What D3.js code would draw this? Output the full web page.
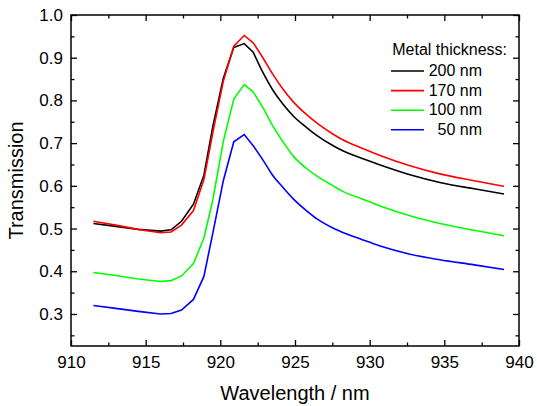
<!DOCTYPE html>
<html>
<head>
<meta charset="utf-8">
<script src="https://cdn.jsdelivr.net/npm/d3@7"></script>
<style>
  body { margin: 0; background: #fff; }
  text { font-family: "Liberation Sans", Arial, sans-serif; fill: #000; }
</style>
</head>
<body>
<div id="chart"></div>
<script>
const width = 537;
const height = 406;
const margin = { top: 15, right: 18, bottom: 60, left: 71 };

// wavelength (nm) sampled along all curves
const wavelength = [911.5, 913, 914.5, 916, 916.7, 917.4, 918.2, 918.9, 919.5, 920.2, 920.9, 921.6,
  922.2, 922.9, 923.5, 924.2, 924.9, 925.8, 926.5, 927.5, 928.2, 929.5, 930.7, 932.7, 934.7, 937, 939];

const t200 = [0.512, 0.505, 0.498, 0.494, 0.497, 0.517, 0.557, 0.625, 0.740, 0.852, 0.924, 0.933,
  0.913, 0.862, 0.825, 0.791, 0.763, 0.736, 0.717, 0.695, 0.682, 0.664, 0.649, 0.626, 0.608, 0.593, 0.581];
const t170 = [0.517, 0.508, 0.498, 0.490, 0.492, 0.508, 0.542, 0.615, 0.725, 0.845, 0.927, 0.952,
  0.935, 0.897, 0.862, 0.826, 0.796, 0.766, 0.746, 0.722, 0.708, 0.688, 0.671, 0.647, 0.628, 0.612, 0.599];
const t100 = [0.397, 0.390, 0.382, 0.376, 0.378, 0.389, 0.418, 0.478, 0.568, 0.704, 0.803, 0.837,
  0.820, 0.780, 0.741, 0.703, 0.669, 0.640, 0.622, 0.601, 0.587, 0.569, 0.553, 0.530, 0.512, 0.496, 0.483];
const t50 = [0.320, 0.313, 0.306, 0.300, 0.301, 0.309, 0.334, 0.388, 0.490, 0.612, 0.703, 0.720,
  0.694, 0.658, 0.625, 0.596, 0.569, 0.541, 0.522, 0.502, 0.491, 0.474, 0.459, 0.440, 0.427, 0.415, 0.404];

const seriesNames = ["200 nm", "170 nm", "100 nm", " 50 nm"];
const seriesColors = ["#000000", "#ff0000", "#00ff00", "#0000ff"];
const seriesValues = [t200, t170, t100, t50];

const xTicks = [910, 915, 920, 925, 930, 935, 940];
const yTicks = [0.3, 0.4, 0.5, 0.6, 0.7, 0.8, 0.9, 1.0];

const svg = d3
  .select("#chart")
  .append("svg")
  .attr("width", width)
  .attr("height", height);

const x = d3
  .scaleLinear()
  .domain([910, 940])
  .range([margin.left, width - margin.right]);

const y = d3
  .scaleLinear()
  .domain([0.225, 1.0])
  .range([height - margin.bottom, margin.top]);

const xMinor = d3.range(912.5, 940, 5);
const yMinor = d3.range(0.25, 1.0, 0.1);

// bottom axis with labels
svg.append("g")
  .attr("transform", `translate(0,${height - margin.bottom})`)
  .call(d3.axisBottom(x).tickValues(xTicks).tickSizeInner(-6).tickSizeOuter(0).tickPadding(10).tickFormat(d3.format("d")))
  .call((g) => g.selectAll("text").style("font-size", "17px"));
svg.append("g")
  .attr("transform", `translate(0,${height - margin.bottom})`)
  .call(d3.axisBottom(x).tickValues(xMinor).tickSize(-3.5).tickFormat(""));

// top axis, ticks only
svg.append("g")
  .attr("transform", `translate(0,${margin.top})`)
  .call(d3.axisTop(x).tickValues(xTicks).tickSizeInner(-6).tickSizeOuter(0).tickFormat(""));
svg.append("g")
  .attr("transform", `translate(0,${margin.top})`)
  .call(d3.axisTop(x).tickValues(xMinor).tickSize(-3.5).tickFormat(""));

// left axis with labels
svg.append("g")
  .attr("transform", `translate(${margin.left},0)`)
  .call(d3.axisLeft(y).tickValues(yTicks).tickSizeInner(-6).tickSizeOuter(0).tickPadding(8).tickFormat(d3.format(".1f")))
  .call((g) => g.selectAll("text").style("font-size", "17px"));
svg.append("g")
  .attr("transform", `translate(${margin.left},0)`)
  .call(d3.axisLeft(y).tickValues(yMinor).tickSize(-3.5).tickFormat(""));

// right axis, ticks only
svg.append("g")
  .attr("transform", `translate(${width - margin.right},0)`)
  .call(d3.axisRight(y).tickValues(yTicks).tickSizeInner(-6).tickSizeOuter(0).tickFormat(""));
svg.append("g")
  .attr("transform", `translate(${width - margin.right},0)`)
  .call(d3.axisRight(y).tickValues(yMinor).tickSize(-3.5).tickFormat(""));

svg.selectAll(".domain").remove();
svg.selectAll(".tick line").attr("stroke", "#000").attr("stroke-width", 1.3);

// frame
svg.append("rect")
  .attr("x", x(910))
  .attr("y", y(1.0))
  .attr("width", x(940) - x(910))
  .attr("height", y(0.225) - y(1.0))
  .attr("fill", "none")
  .attr("stroke", "#000")
  .attr("stroke-width", 1.5);

// straight segments through the resonance, smooth tail afterwards
const lineSharp = d3.line().x((d) => x(d[0])).y((d) => y(d[1]));
const lineSmooth = d3.line().curve(d3.curveMonotoneX).x((d) => x(d[0])).y((d) => y(d[1]));
const split = wavelength.indexOf(922.2);

// blue and green first, then black under red
const drawOrder = [3, 2, 0, 1];
for (let i of drawOrder) {
  const pts = wavelength.map((w, j) => [w, seriesValues[i][j]]);
  const d = lineSharp(pts.slice(0, split + 1)) + lineSmooth(pts.slice(split)).replace(/^M[^LC]*/, "");
  svg.append("path")
    .attr("fill", "none")
    .attr("stroke", seriesColors[i])
    .attr("stroke-width", 1.6)
    .attr("d", d);
}

// legend
const legend = svg.append("g");
legend.append("text")
  .attr("x", 507)
  .attr("y", 55)
  .attr("text-anchor", "end")
  .style("font-size", "16px")
  .text("Metal thickness:");

seriesNames.forEach((name, i) => {
  const ly = 71 + i * 19.6;
  legend.append("line")
    .attr("x1", 391)
    .attr("x2", 424)
    .attr("y1", ly)
    .attr("y2", ly)
    .attr("stroke", seriesColors[i])
    .attr("stroke-width", 1.6);
  legend.append("text")
    .attr("x", 482)
    .attr("y", ly + 5)
    .attr("text-anchor", "end")
    .style("font-size", "16px")
    .style("white-space", "pre")
    .text(name);
});

// axis titles
svg.append("text")
  .attr("x", (x(910) + x(940)) / 2)
  .attr("y", 400)
  .attr("text-anchor", "middle")
  .style("font-size", "20px")
  .text("Wavelength / nm");

svg.append("text")
  .attr("transform", `translate(23,${(y(0.225) + y(1.0)) / 2}) rotate(-90)`)
  .attr("text-anchor", "middle")
  .style("font-size", "20px")
  .text("Transmission");
</script>
</body>
</html>
